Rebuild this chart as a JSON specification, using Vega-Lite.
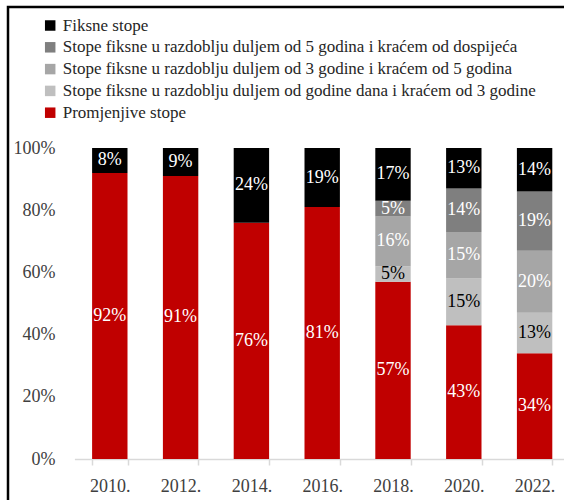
{
  "$schema": "https://vega.github.io/schema/vega-lite/v6.json",
  "autosize": {"type": "none"},
  "width": 560,
  "height": 497,
  "padding": {"left": 8, "top": 7, "right": -4, "bottom": -4},
  "config": {
    "font": "Liberation Serif",
    "view": {"stroke": "#000000", "strokeWidth": 2.5},
    "axis": {"grid": false}
  },
  "data": {
    "values": [
      {"year": "2010.", "series": "Promjenjive stope", "level": 0, "value": 0.92},
      {"year": "2010.", "series": "Fiksne stope", "level": 4, "value": 0.08},
      {"year": "2012.", "series": "Promjenjive stope", "level": 0, "value": 0.91},
      {"year": "2012.", "series": "Fiksne stope", "level": 4, "value": 0.09},
      {"year": "2014.", "series": "Promjenjive stope", "level": 0, "value": 0.76},
      {"year": "2014.", "series": "Fiksne stope", "level": 4, "value": 0.24},
      {"year": "2016.", "series": "Promjenjive stope", "level": 0, "value": 0.81},
      {"year": "2016.", "series": "Fiksne stope", "level": 4, "value": 0.19},
      {"year": "2018.", "series": "Promjenjive stope", "level": 0, "value": 0.57},
      {"year": "2018.", "series": "Stope fiksne u razdoblju duljem od godine dana i kraćem od 3 godine", "level": 1, "value": 0.05},
      {"year": "2018.", "series": "Stope fiksne u razdoblju duljem od 3 godine i kraćem od 5 godina", "level": 2, "value": 0.16},
      {"year": "2018.", "series": "Stope fiksne u razdoblju duljem od 5 godina i kraćem od dospijeća", "level": 3, "value": 0.05},
      {"year": "2018.", "series": "Fiksne stope", "level": 4, "value": 0.17},
      {"year": "2020.", "series": "Promjenjive stope", "level": 0, "value": 0.43},
      {"year": "2020.", "series": "Stope fiksne u razdoblju duljem od godine dana i kraćem od 3 godine", "level": 1, "value": 0.15},
      {"year": "2020.", "series": "Stope fiksne u razdoblju duljem od 3 godine i kraćem od 5 godina", "level": 2, "value": 0.15},
      {"year": "2020.", "series": "Stope fiksne u razdoblju duljem od 5 godina i kraćem od dospijeća", "level": 3, "value": 0.14},
      {"year": "2020.", "series": "Fiksne stope", "level": 4, "value": 0.13},
      {"year": "2022.", "series": "Promjenjive stope", "level": 0, "value": 0.34},
      {"year": "2022.", "series": "Stope fiksne u razdoblju duljem od godine dana i kraćem od 3 godine", "level": 1, "value": 0.13},
      {"year": "2022.", "series": "Stope fiksne u razdoblju duljem od 3 godine i kraćem od 5 godina", "level": 2, "value": 0.20},
      {"year": "2022.", "series": "Stope fiksne u razdoblju duljem od 5 godina i kraćem od dospijeća", "level": 3, "value": 0.19},
      {"year": "2022.", "series": "Fiksne stope", "level": 4, "value": 0.14}
    ]
  },
  "encoding": {
    "x": {
      "field": "year",
      "type": "ordinal",
      "scale": {"range": [66.4, 562], "paddingInner": 0.5, "paddingOuter": 0.25},
      "axis": {
        "title": null,
        "labelAngle": 0,
        "orient": "bottom",
        "offset": -45,
        "domainColor": "#d9d9d9",
        "domainWidth": 1.5,
        "tickColor": "#d9d9d9",
        "tickWidth": 1.5,
        "tickSize": 6,
        "tickBand": "extent",
        "labelPadding": 12,
        "labelFontSize": 18,
        "labelColor": "#404040",
        "labelFont": "Liberation Serif"
      }
    }
  },
  "layer": [
    {
      "mark": {"type": "bar"},
      "encoding": {
        "y": {
          "field": "value",
          "type": "quantitative",
          "stack": "zero",
          "scale": {"domain": [0, 1], "range": [452, 141], "nice": false},
          "axis": {
            "title": null,
            "orient": "left",
            "offset": -47,
            "domain": false,
            "ticks": false,
            "tickSize": 0,
            "labelPadding": 0,
            "values": [0, 0.2, 0.4, 0.6, 0.8, 1],
            "format": ".0%",
            "labelFontSize": 18,
            "labelColor": "#404040",
            "labelFont": "Liberation Serif"
          }
        },
        "order": {"field": "level", "type": "quantitative"},
        "color": {
          "field": "series",
          "type": "nominal",
          "sort": ["Fiksne stope", "Stope fiksne u razdoblju duljem od 5 godina i kraćem od dospijeća", "Stope fiksne u razdoblju duljem od 3 godine i kraćem od 5 godina", "Stope fiksne u razdoblju duljem od godine dana i kraćem od 3 godine", "Promjenjive stope"],
          "scale": {
            "domain": ["Fiksne stope", "Stope fiksne u razdoblju duljem od 5 godina i kraćem od dospijeća", "Stope fiksne u razdoblju duljem od 3 godine i kraćem od 5 godina", "Stope fiksne u razdoblju duljem od godine dana i kraćem od 3 godine", "Promjenjive stope"],
            "range": ["#000000", "#7f7f7f", "#a6a6a6", "#bfbfbf", "#c00000"]
          },
          "legend": {
            "orient": "none",
            "legendX": 33.7,
            "legendY": 10,
            "title": null,
            "symbolType": "square",
            "symbolSize": 110,
            "symbolStrokeWidth": 0,
            "labelFont": "Liberation Serif",
            "labelFontSize": 17,
            "labelColor": "#262626",
            "labelLimit": 0,
            "rowPadding": 3.8,
            "labelOffset": 4,
            "padding": 0
          }
        }
      }
    },
    {
      "mark": {"type": "text", "font": "Liberation Serif", "fontSize": 18},
      "encoding": {
        "y": {"field": "value", "type": "quantitative", "stack": "zero", "bandPosition": 0.5},
        "detail": {"field": "series", "type": "nominal"},
        "order": {"field": "level", "type": "quantitative"},
        "text": {"field": "value", "type": "quantitative", "format": ".0%"},
        "color": {
          "condition": {"test": "datum.series === 'Stope fiksne u razdoblju duljem od godine dana i kraćem od 3 godine'", "value": "#000000"},
          "value": "#ffffff"
        }
      }
    }
  ]
}
